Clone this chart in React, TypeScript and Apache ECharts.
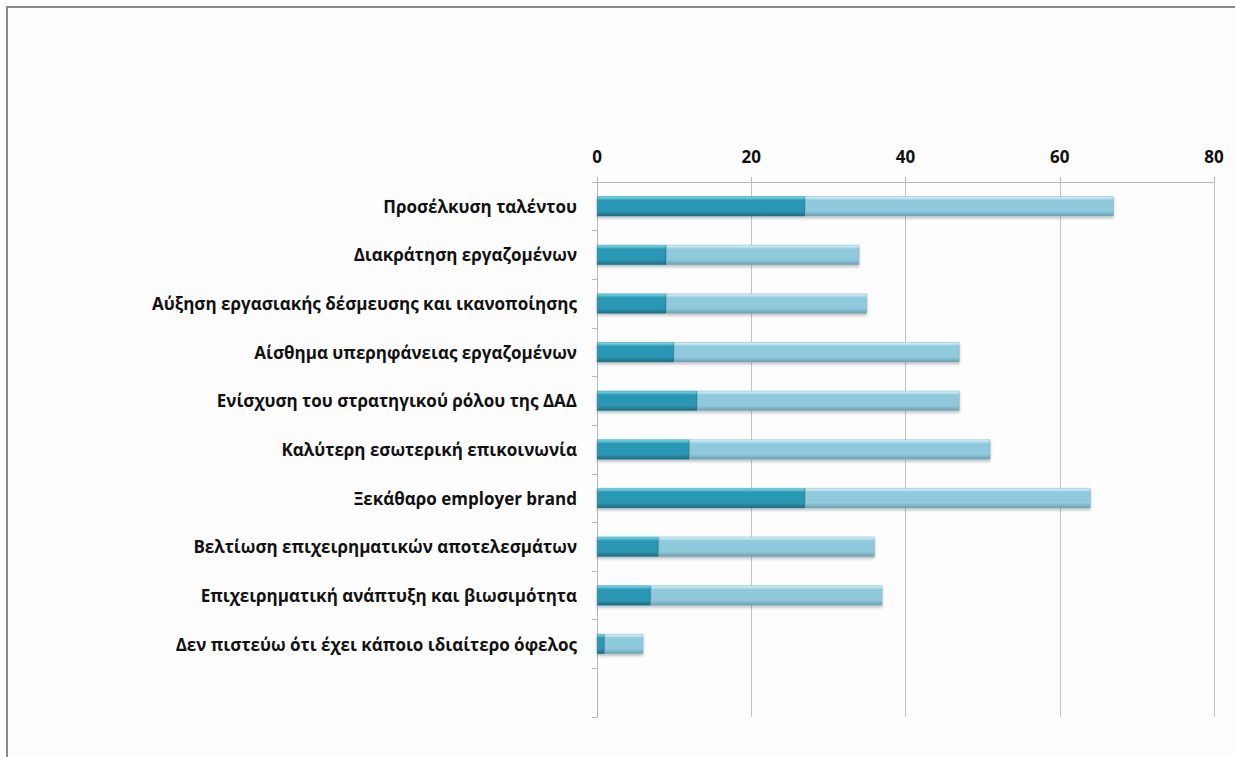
import React, { useEffect, useRef } from "react";
import * as echarts from "echarts";

const categories = [
  "Προσέλκυση ταλέντου",
  "Διακράτηση εργαζομένων",
  "Αύξηση εργασιακής δέσμευσης και ικανοποίησης",
  "Αίσθημα υπερηφάνειας εργαζομένων",
  "Ενίσχυση του στρατηγικού ρόλου της ΔΑΔ",
  "Καλύτερη εσωτερική επικοινωνία",
  "Ξεκάθαρο employer brand",
  "Βελτίωση επιχειρηματικών αποτελεσμάτων",
  "Επιχειρηματική ανάπτυξη και βιωσιμότητα",
  "Δεν πιστεύω ότι έχει κάποιο ιδιαίτερο όφελος",
  "",
];
const seriesA = [27, 9, 9, 10, 13, 12, 27, 8, 7, 1, 0];
const seriesB = [40, 25, 26, 37, 34, 39, 37, 28, 30, 5, 0];
const xTicks = [0, 20, 40, 60, 80];

export default function App() {
  const ref = useRef<HTMLDivElement>(null);
  useEffect(() => {
    const chart = echarts.init(ref.current!, null, { renderer: "svg" });
    const grad = (top: string, mid: string, bot: string) =>
      new echarts.graphic.LinearGradient(0, 0, 0, 1, [
        { offset: 0, color: top },
        { offset: 0.2, color: mid },
        { offset: 0.75, color: mid },
        { offset: 1, color: bot },
      ]);
    chart.setOption({
      animation: false,
      backgroundColor: "#fdfdfd",
      textStyle: { fontFamily: "Open Sans" },
      graphic: [
        {
          type: "rect",
          shape: { x: 7, y: 7, width: 1400, height: 900 },
          style: { fill: "none", stroke: "#8a8a8a", lineWidth: 2 },
          z: 100,
        },
      ],
      grid: { left: 597, right: 21, top: 182, bottom: 40 },
      xAxis: {
        type: "value",
        position: "top",
        min: xTicks[0],
        max: xTicks[xTicks.length - 1],
        interval: 20,
        axisLine: { show: true, lineStyle: { color: "#b8b8b8", width: 1 } },
        axisTick: { show: true, length: 5, lineStyle: { color: "#b8b8b8" } },
        splitLine: { show: true, lineStyle: { color: "#c4c4c4", width: 1 } },
        axisLabel: {
          color: "#111",
          fontWeight: "bold",
          fontSize: 17,
          margin: 17,
          fontFamily: "Open Sans",
        },
      },
      yAxis: {
        type: "category",
        inverse: true,
        data: categories,
        axisLine: { show: true, lineStyle: { color: "#b8b8b8", width: 1 } },
        axisTick: { show: true, length: 5, lineStyle: { color: "#b8b8b8" } },
        axisLabel: {
          color: "#111",
          fontWeight: "bold",
          fontSize: 17,
          margin: 20,
          fontFamily: "Open Sans",
        },
      },
      series: [
        {
          type: "bar",
          stack: "s",
          data: seriesA,
          barWidth: 20,
          itemStyle: {
            color: grad("#7ae4f7", "#2b98b4", "#1c6b80"),
            borderColor: "#2a7f95",
            borderWidth: 0.5,
            shadowColor: "rgba(0,0,0,0.25)",
            shadowBlur: 3,
            shadowOffsetY: 2,
          },
        },
        {
          type: "bar",
          stack: "s",
          data: seriesB,
          barWidth: 20,
          itemStyle: {
            color: grad("#dcfaff", "#8fc9dc", "#6b9fb1"),
            borderColor: "#7aa9b9",
            borderWidth: 0.5,
            shadowColor: "rgba(0,0,0,0.25)",
            shadowBlur: 3,
            shadowOffsetY: 2,
          },
        },
      ],
    });
    return () => chart.dispose();
  }, []);
  return (
    <div
      ref={ref}
      style={{ position: "fixed", left: 0, top: 0, width: 1235, height: 757 }}
    />
  );
}
